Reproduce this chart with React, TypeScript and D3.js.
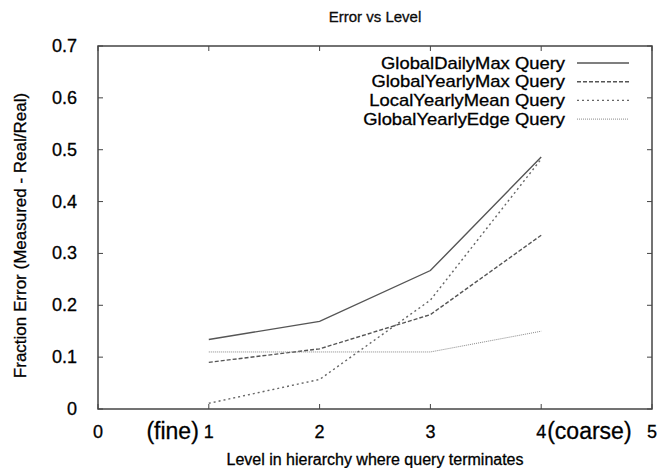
import React from "react";
import * as d3 from "d3";

const levels = [1, 2, 3, 4];
const seriesNames = [
  "GlobalDailyMax Query",
  "GlobalYearlyMax Query",
  "LocalYearlyMean Query",
  "GlobalYearlyEdge Query",
];
const globalDailyMax = [0.134, 0.169, 0.267, 0.486];
const globalYearlyMax = [0.09, 0.116, 0.182, 0.335];
const localYearlyMean = [0.011, 0.057, 0.21, 0.482];
const globalYearlyEdge = [0.11, 0.11, 0.11, 0.15];
const xTicks = [0, 1, 2, 3, 4, 5];
const yTicks = [0, 0.1, 0.2, 0.3, 0.4, 0.5, 0.6, 0.7];
const xTickAnnotations = [
  { at: 1, text: "(fine)", side: "left" },
  { at: 4, text: "(coarse)", side: "right" },
];

const styles = [
  { stroke: "#555", dash: "none", width: 1.4 },
  { stroke: "#555", dash: "4,2", width: 1.4 },
  { stroke: "#666", dash: "2,3", width: 1.4 },
  { stroke: "#888", dash: "1,1", width: 1 },
];

export default function App() {
  const W = 662, H = 468;
  const left = 98, right = 652, top = 46, bottom = 409;
  const x = d3.scaleLinear().domain([0, 5]).range([left, right]);
  const y = d3.scaleLinear().domain([0, 0.7]).range([bottom, top]);
  const data = [globalDailyMax, globalYearlyMax, localYearlyMean, globalYearlyEdge];
  const line = d3
    .line<number>()
    .x((_, i) => x(levels[i]))
    .y((d) => y(d));
  const font = "'Liberation Sans', Arial, Helvetica, sans-serif";
  const tl = 5;
  const heavy = { stroke: "#000", strokeWidth: 0.3 };
  return (
    <svg
      width={W}
      height={H}
      style={{ position: "absolute", left: 0, top: 0, background: "#fff" }}
      fontFamily={font}
    >
      <rect x={0} y={0} width={W} height={H} fill="#fff" />
      <text x={(left + right) / 2} y={22} textAnchor="middle" fontSize={15} fill="#111" {...heavy}>
        Error vs Level
      </text>
      {/* ticks */}
      {yTicks.map((t) => (
        <g key={"y" + t}>
          <line x1={left} x2={left + tl} y1={y(t)} y2={y(t)} stroke="#444" />
          <line x1={right} x2={right - tl} y1={y(t)} y2={y(t)} stroke="#444" />
          <text x={left - 21} y={y(t) + 6} textAnchor="end" fontSize={18} fill="#000" {...heavy}>
            {String(t)}
          </text>
        </g>
      ))}
      {xTicks.map((t) => (
        <g key={"x" + t}>
          <line x1={x(t)} x2={x(t)} y1={bottom} y2={bottom - tl} stroke="#444" />
          <line x1={x(t)} x2={x(t)} y1={top} y2={top + tl} stroke="#444" />
          <text x={x(t)} y={bottom + 29} textAnchor="middle" fontSize={18} fill="#000" {...heavy}>
            {String(t)}
          </text>
        </g>
      ))}
      {xTickAnnotations.map((a) => (
        <text
          key={a.text}
          x={a.side === "left" ? x(a.at) - 10 : x(a.at) + 6}
          y={bottom + 30}
          textAnchor={a.side === "left" ? "end" : "start"}
          fontSize={23}
          fill="#000"
          {...heavy}
        >
          {a.text}
        </text>
      ))}
      {/* frame */}
      <rect
        x={left}
        y={top}
        width={right - left}
        height={bottom - top}
        fill="none"
        stroke="#444"
        strokeWidth={1.5}
      />
      {/* series */}
      {data.map((d, i) => (
        <path
          key={seriesNames[i]}
          d={line(d) || ""}
          fill="none"
          stroke={styles[i].stroke}
          strokeWidth={styles[i].width}
          strokeDasharray={styles[i].dash}
        />
      ))}
      {/* legend */}
      {seriesNames.map((n, i) => {
        const ly = 63 + i * 18.7;
        return (
          <g key={"l" + n}>
            <g transform={`translate(565, ${ly + 5.5}) scale(1.15, 1)`}>
              <text x={0} y={0} textAnchor="end" fontSize={16} fill="#000" {...heavy}>
                {n}
              </text>
            </g>
            <line
              x1={577}
              x2={629}
              y1={ly}
              y2={ly}
              stroke={styles[i].stroke}
              strokeWidth={styles[i].width}
              strokeDasharray={styles[i].dash}
            />
          </g>
        );
      })}
      <text x={(left + right) / 2} y={465} textAnchor="middle" fontSize={16} fill="#000" {...heavy}>
        Level in hierarchy where query terminates
      </text>
      <text
        transform={`translate(26, ${(top + bottom) / 2 + 8}) rotate(-90)`}
        textAnchor="middle"
        fontSize={17}
        fill="#000"
        {...heavy}
      >
        Fraction Error (Measured - Real/Real)
      </text>
    </svg>
  );
}
